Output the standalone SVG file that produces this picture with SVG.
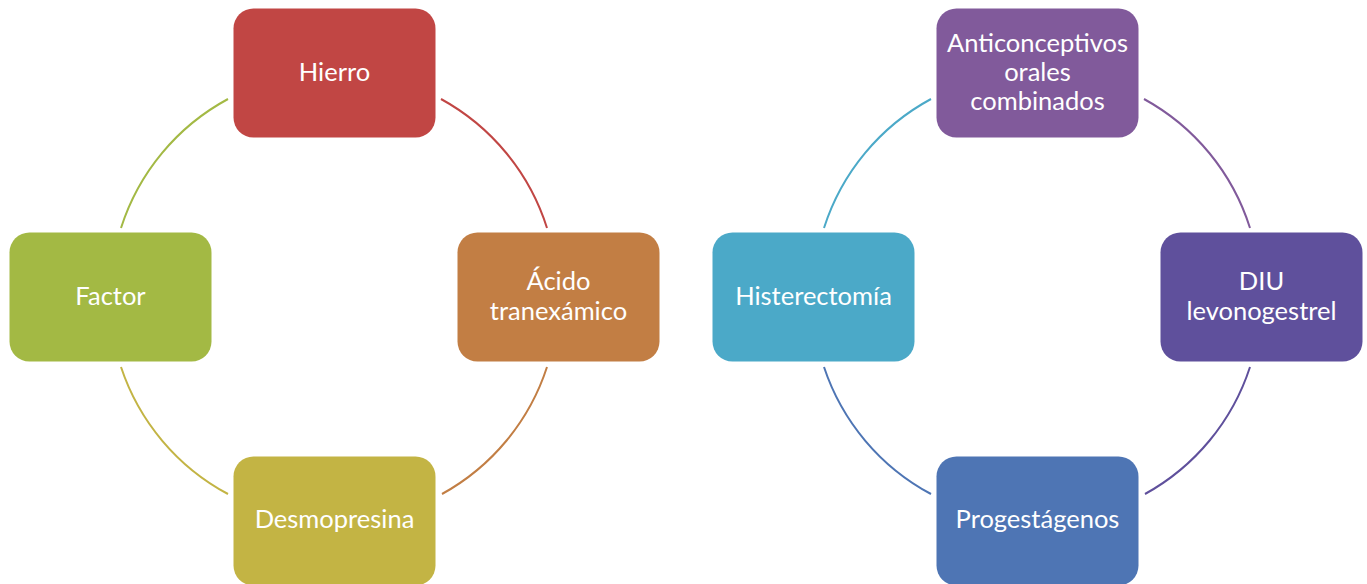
<svg xmlns="http://www.w3.org/2000/svg" width="1367" height="584" viewBox="0 0 1367 584">
<style>
.box{stroke:none}
.lbl{font-family:Lato,"Open Sans",sans-serif;font-size:25.5px;fill:#ffffff;text-anchor:middle}
.arc{fill:none;stroke-width:2}
</style>
<rect width="1367" height="584" fill="#ffffff"/>
<g id="connectors">
<path class="arc" stroke="#C14644" d="M441,99 A224,224 0 0 1 547,228"/>
<path class="arc" stroke="#C27E44" d="M547,367 A224,224 0 0 1 442,494"/>
<path class="arc" stroke="#C3B444" d="M228,494 A224,224 0 0 1 121,367"/>
<path class="arc" stroke="#A3B944" d="M121,228 A224,224 0 0 1 228,99"/>
<path class="arc" stroke="#815A9B" d="M1144,99 A224,224 0 0 1 1250,228"/>
<path class="arc" stroke="#5F509C" d="M1250,367 A224,224 0 0 1 1145,494"/>
<path class="arc" stroke="#4E75B4" d="M931,494 A224,224 0 0 1 824,367"/>
<path class="arc" stroke="#4BA9C8" d="M824,228 A224,224 0 0 1 931,99"/>
</g>
<g id="hierro"><rect class="box" x="233.5" y="8.5" width="202" height="129" rx="20" fill="#C14644"/><text class="lbl" x="334.5" y="81">Hierro</text></g>
<g id="acido"><rect class="box" x="457.5" y="232.5" width="202" height="129" rx="20" fill="#C27E44"/><text class="lbl" x="558.5" y="290">Ácido</text><text class="lbl" x="558.5" y="320">tranexámico</text></g>
<g id="desmopresina"><rect class="box" x="233.5" y="456.5" width="202" height="129" rx="20" fill="#C3B444"/><text class="lbl" x="334.5" y="528">Desmopresina</text></g>
<g id="factor"><rect class="box" x="9.5" y="232.5" width="202" height="129" rx="20" fill="#A3B944"/><text class="lbl" x="110.5" y="305">Factor</text></g>
<g id="anticonceptivos"><rect class="box" x="936.5" y="8.5" width="202" height="129" rx="20" fill="#815A9B"/><text class="lbl" x="1037.5" y="52">Anticonceptivos</text><text class="lbl" x="1037.5" y="81">orales</text><text class="lbl" x="1037.5" y="110">combinados</text></g>
<g id="diu"><rect class="box" x="1160.5" y="232.5" width="202" height="129" rx="20" fill="#5F509C"/><text class="lbl" x="1261.5" y="290">DIU</text><text class="lbl" x="1261.5" y="320">levonogestrel</text></g>
<g id="progestagenos"><rect class="box" x="936.5" y="456.5" width="202" height="129" rx="20" fill="#4E75B4"/><text class="lbl" x="1037.5" y="528">Progestágenos</text></g>
<g id="histerectomia"><rect class="box" x="712.5" y="232.5" width="202" height="129" rx="20" fill="#4BA9C8"/><text class="lbl" x="813.5" y="305">Histerectomía</text></g>
</svg>
